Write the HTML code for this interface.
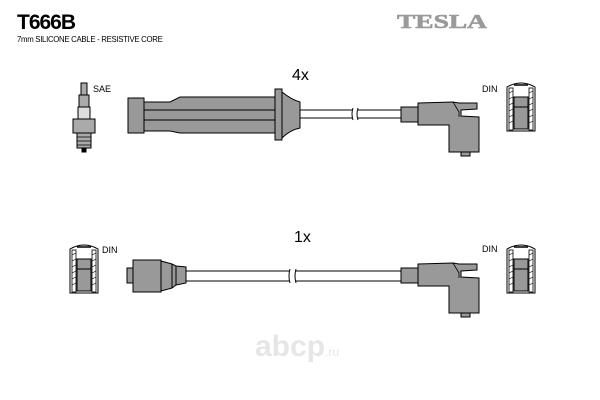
<!DOCTYPE html>
<html><head><meta charset="utf-8"><style>
html,body{margin:0;padding:0;background:#fff;width:600px;height:400px;overflow:hidden}
svg{display:block}
</style></head><body>
<svg width="600" height="400" viewBox="0 0 600 400" xmlns="http://www.w3.org/2000/svg" font-family="Liberation Sans, sans-serif">
<defs>
<g id="din">
 <path d="M0,4 Q14,-4 28,4 L28,48 L0,48 Z" fill="#fff" stroke="#000" stroke-width="1"/>
 <rect x="2" y="5" width="4" height="42" fill="#fff" stroke="#000" stroke-width="0.8"/>
 <rect x="22" y="5" width="4" height="42" fill="#fff" stroke="#000" stroke-width="0.8"/>
 <path d="M2,10 L6,8 M2,16 L6,14 M2,22 L6,20 M2,28 L6,26 M2,34 L6,32 M2,40 L6,38 M22,10 L26,8 M22,16 L26,14 M22,22 L26,20 M22,28 L26,26 M22,34 L26,32 M22,40 L26,38" stroke="#000" stroke-width="0.6"/>
 <rect x="7" y="14" width="14" height="32" fill="#999" stroke="#000" stroke-width="1"/>
 <line x1="7" y1="24" x2="21" y2="24" stroke="#000"/>
 <line x1="7" y1="2" x2="21" y2="2" stroke="#000" stroke-width="1.5"/>
</g>
<g id="conn">
 <rect x="0" y="5" width="17" height="15" fill="#999" stroke="#000"/>
 <path d="M17,1 L52,0 L58,1 L76,1 L76,7 L60,8 L60,14 L78,15 L78,50 L48,50 L48,23 L17,23 Z" fill="#999" stroke="#000"/>
 <path d="M52,0 L58,10 L58,15" fill="none" stroke="#000" stroke-width="0.8"/>
 <rect x="60" y="50" width="9" height="4" fill="#999" stroke="#000"/>
</g>
</defs>

<text x="17" y="29" font-size="21" font-weight="bold" letter-spacing="-1">T666B</text>
<text x="17" y="42" font-size="7.8" letter-spacing="-0.3">7mm SILICONE CABLE - RESISTIVE CORE</text>
<text x="397" y="28" font-size="20" font-weight="bold" font-family="Liberation Serif, serif" fill="#9a9a9a" textLength="90" lengthAdjust="spacingAndGlyphs" stroke="#9a9a9a" stroke-width="0.6">TESLA</text>

<text x="292" y="80" font-size="16">4x</text>
<text x="294" y="242" font-size="16">1x</text>
<text x="93" y="92" font-size="9">SAE</text>
<text x="482" y="92" font-size="9">DIN</text>
<text x="102" y="253" font-size="9">DIN</text>
<text x="482" y="252" font-size="9">DIN</text>

<g stroke="#000" stroke-width="1" fill="#aaa">
 <rect x="81" y="83" width="6" height="12"/>
 <rect x="79" y="95" width="10" height="12"/>
 <rect x="78" y="107" width="12" height="12" fill="#ddd"/>
 <rect x="73" y="119" width="22" height="14"/>
 <rect x="77" y="133" width="14" height="15"/>
 <path d="M77,137 L91,137 M77,141 L91,141 M77,145 L91,145" stroke-width="0.8"/>
 <rect x="82" y="148" width="4" height="4" fill="#000"/>
</g>

<g stroke="#000" stroke-width="1" fill="#999">
 <rect x="128" y="98" width="16" height="35"/>
 <path d="M144,102 L170,102 L180,97 L275,97 L275,133 L180,133 L170,131 L144,131 Z"/>
 <path d="M144,110 L275,110 M144,120 L275,120" fill="none"/>
 <rect x="275" y="89" width="7" height="51"/>
 <path d="M282,92 Q292,100 300,102 L300,128 Q290,130 282,138 Z"/>
</g>
<g stroke="#000" stroke-width="1" fill="none">
 <line x1="300" y1="110" x2="353" y2="110"/><line x1="300" y1="118" x2="353" y2="118"/>
 <line x1="358" y1="110" x2="401" y2="110"/><line x1="358" y1="118" x2="401" y2="118"/>
 <path d="M353,108 Q351,114 353,120 M358,108 Q356,114 358,120"/>
</g>
<use href="#conn" x="401" y="102"/>
<use href="#din" x="507" y="83"/>

<use href="#din" x="70" y="245"/>
<g stroke="#000" stroke-width="1" fill="#999">
 <rect x="127" y="268" width="6" height="15"/>
 <rect x="133" y="260" width="28" height="32"/>
 <path d="M161,261 L172,264 L176,266 L186,267 L186,283 L176,285 L172,288 L161,291 Z"/>
 <path d="M172,264 L172,288 M176,266 L176,285" fill="none"/>
</g>
<g stroke="#000" stroke-width="1" fill="none">
 <line x1="186" y1="271" x2="290" y2="271"/><line x1="186" y1="281" x2="290" y2="281"/>
 <line x1="296" y1="271" x2="401" y2="271"/><line x1="296" y1="281" x2="401" y2="281"/>
 <path d="M290,269 Q288,276 290,283 M296,269 Q294,276 296,283"/>
</g>
<use href="#conn" x="401" y="263"/>
<use href="#din" x="507" y="245"/>

<text x="255" y="356" font-size="30" font-weight="bold" fill="#e6e6e6">abcp<tspan font-size="12" font-weight="normal">.ru</tspan></text>
</svg>
</body></html>
